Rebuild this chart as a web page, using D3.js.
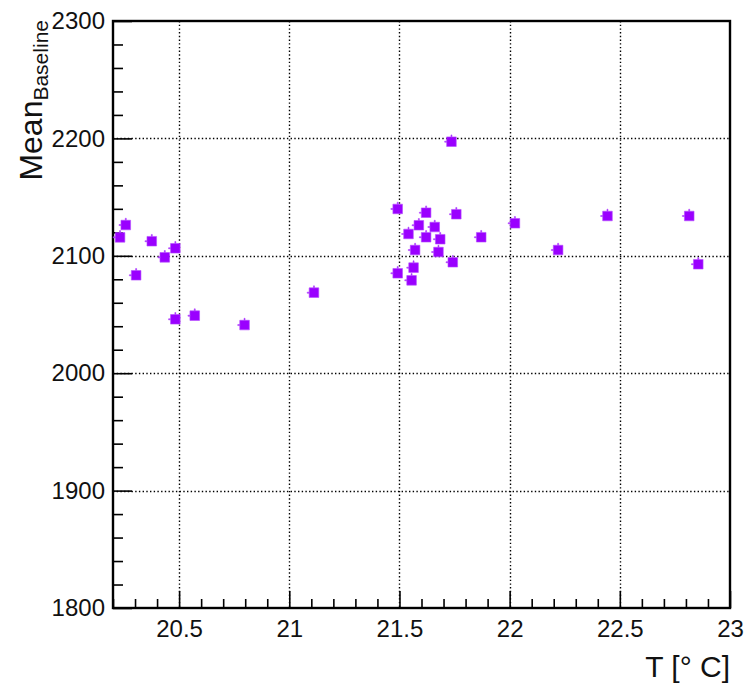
<!DOCTYPE html>
<html>
<head>
<meta charset="utf-8">
<script src="https://cdn.jsdelivr.net/npm/d3@7"></script>
<style>
  html, body { margin: 0; padding: 0; background: #fff; }
  svg { display: block; font-family: "Liberation Sans", Arial, Helvetica, sans-serif; }
</style>
</head>
<body>
<svg id="chart" width="749" height="686"></svg>
<script>
// Temperature (°C) of each measurement
const temperature = [
  20.258, 20.232, 20.376, 20.483, 20.435, 20.305, 21.112, 20.571, 20.483, 20.797,
  21.736, 21.492, 21.621, 21.758, 21.588, 21.660, 21.541, 21.621, 21.685, 21.871,
  22.024, 22.220, 21.571, 21.677, 21.742, 21.492, 21.564, 21.555,
  22.444, 22.815, 22.856
];
// Mean baseline at that temperature
const meanBaseline = [
  2126.2, 2115.7, 2112.4, 2106.4, 2098.7, 2083.4, 2068.6, 2049.0, 2045.9, 2041.0,
  2197.2, 2139.9, 2136.7, 2135.4, 2126.0, 2124.5, 2118.6, 2115.8, 2114.1, 2115.8,
  2127.7, 2104.9, 2104.9, 2103.2, 2094.5, 2085.1, 2089.9, 2079.1,
  2133.9, 2133.9, 2092.8
];
const xTicks = [20.5, 21, 21.5, 22, 22.5, 23];
const yTicks = [1800, 1900, 2000, 2100, 2200, 2300];
const xDomain = [20.2, 23];
const yDomain = [1800, 2300];

const points = temperature.map((t, i) => ({ t, v: meanBaseline[i] }));

const svg = d3.select("#chart");
const m = { left: 113, right: 730, top: 21, bottom: 608 };

const x = d3.scaleLinear().domain(xDomain).range([m.left, m.right]);
const y = d3.scaleLinear().domain(yDomain).range([m.bottom, m.top]);

const xMinor = d3.range(202, 231).map(d => d / 10).filter(d => !xTicks.includes(d));
const yMinor = d3.range(1800, 2301, 20).filter(d => !yTicks.includes(d));

// dotted grid at the major ticks
const grid = svg.append("g").attr("stroke", "#000").attr("stroke-width", 1.4)
  .attr("stroke-dasharray", "1.4 2.3");
grid.selectAll(".gx").data(xTicks.filter(d => d > xDomain[0] && d < xDomain[1]))
  .join("line")
  .attr("x1", d => Math.round(x(d)) + 0.5).attr("x2", d => Math.round(x(d)) + 0.5)
  .attr("y1", m.top).attr("y2", m.bottom);
grid.selectAll(".gy").data(yTicks.filter(d => d > yDomain[0] && d < yDomain[1]))
  .join("line")
  .attr("y1", d => Math.round(y(d)) + 0.5).attr("y2", d => Math.round(y(d)) + 0.5)
  .attr("x1", m.left).attr("x2", m.right);

// axes: inward ticks, labels outside
const fontSize = 24;
svg.append("g").attr("transform", `translate(0,${m.bottom})`)
  .call(d3.axisBottom(x).tickValues(xTicks).tickSize(-17).tickPadding(12)
    .tickFormat(d3.format("")));
svg.append("g").attr("transform", `translate(0,${m.bottom})`)
  .call(d3.axisBottom(x).tickValues(xMinor).tickSize(-9).tickFormat(""));
svg.append("g").attr("transform", `translate(${m.left},0)`)
  .call(d3.axisLeft(y).tickValues(yTicks).tickSize(-19).tickPadding(8)
    .tickFormat(d3.format("")));
svg.append("g").attr("transform", `translate(${m.left},0)`)
  .call(d3.axisLeft(y).tickValues(yMinor).tickSize(-10).tickFormat(""));

svg.selectAll(".domain").remove();
svg.selectAll(".tick line").attr("stroke", "#000").attr("stroke-width", 1.6);
svg.selectAll(".tick text").attr("fill", "#111").attr("font-size", fontSize)
  .attr("font-family", "'Liberation Sans', Arial, sans-serif");

// frame
svg.append("rect")
  .attr("x", m.left).attr("y", m.top)
  .attr("width", m.right - m.left).attr("height", m.bottom - m.top)
  .attr("fill", "none").attr("stroke", "#000").attr("stroke-width", 2.4);

// markers
const marker = "M-4.8,-4.8H4.8V4.8H-4.8Z M-6.8,-0.5H-4.8V0.5H-6.8Z M-0.5,-6.8H0.5V-4.8H-0.5Z";
svg.append("g").selectAll("path").data(points).join("path")
  .attr("transform", d => `translate(${x(d.t)},${y(d.v)})`)
  .attr("d", marker)
  .attr("fill", "#9a00ff")
  .attr("stroke", "#b64dff").attr("stroke-width", 0.6);

// axis titles
svg.append("text")
  .attr("x", m.right).attr("y", 677)
  .attr("text-anchor", "end")
  .attr("font-size", 30).attr("fill", "#111")
  .text("T [° C]");

const yt = svg.append("text")
  .attr("transform", `translate(42,${m.top - 1}) rotate(-90)`)
  .attr("text-anchor", "end")
  .attr("font-size", 32).attr("fill", "#111");
yt.append("tspan").text("Mean");
yt.append("tspan").attr("font-size", 21).attr("dy", 6).text("Baseline");
</script>
</body>
</html>
